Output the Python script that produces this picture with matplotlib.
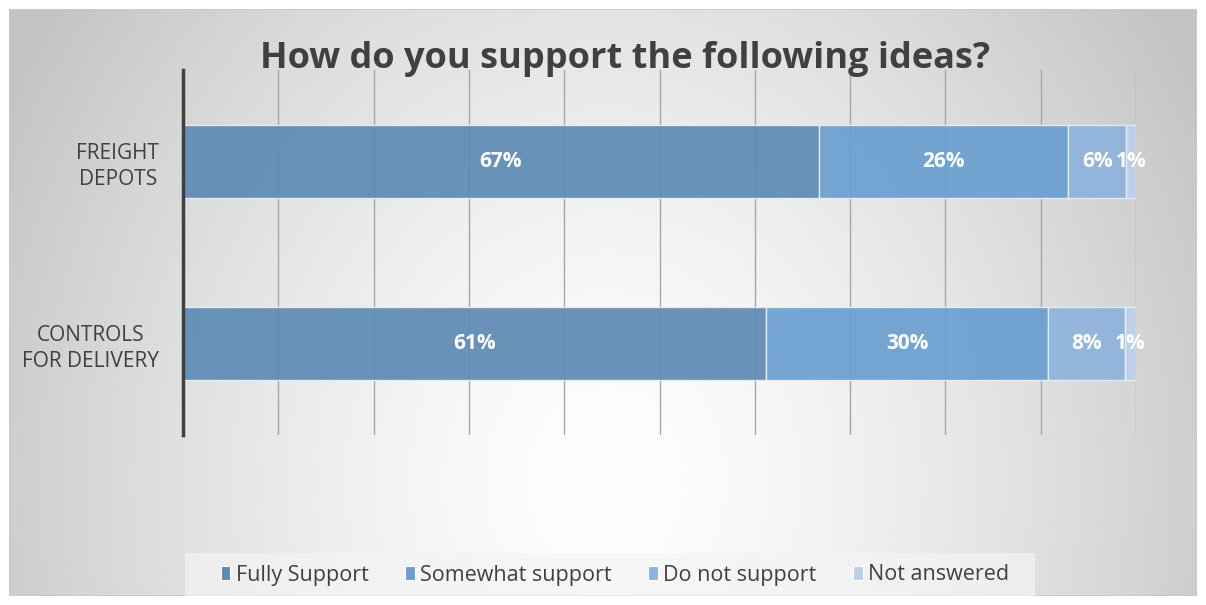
import numpy as np
import matplotlib
matplotlib.use("Agg")
import matplotlib.pyplot as plt
from matplotlib.patches import Rectangle, Patch

categories = ["FREIGHT\nDEPOTS", "CONTROLS\nFOR DELIVERY"]
series = ["Fully Support", "Somewhat support", "Do not support", "Not answered"]
fully = [66.7, 61.2]
somewhat = [26.2, 29.6]
donot = [6.1, 8.0]
notans = [1.0, 1.2]
colors = ["#5E8AB4", "#6A9FD0", "#8FB3DC", "#BCD0EA"]
title = "How do you support the following ideas?"

W, H = 1206, 605
fig = plt.figure(figsize=(W / 100, H / 100), dpi=100)
fig.patch.set_facecolor("white")
plt.rcParams['font.family'] = ['Open Sans', 'DejaVu Sans']

# background radial gradient frame
bg = fig.add_axes([9 / W, 9 / H, (1197 - 9) / W, (596 - 9) / H])
yy, xx = np.mgrid[9:596, 9:1197]
cx, cy = 605, 480
r = np.sqrt(((xx - cx) / 680) ** 2 + ((yy - cy) / 800) ** 2)
r = np.clip(r, 0, 1)
v = 1.0 - 0.23 * r ** 1.4
img = np.dstack([v, v, v])
bg.imshow(img, aspect="auto", extent=[0, 1, 0, 1], origin="upper")
bg.set_xlim(0, 1); bg.set_ylim(0, 1)
bg.axis("off")
bg.add_patch(Rectangle((0, 0), 1, 1, transform=bg.transAxes, fill=False,
                       edgecolor="#C8C8C8", linewidth=1.2))
# legend box
bg.add_patch(Rectangle(((185 - 9) / 1188, (596 - 597) / 587), (1035 - 185) / 1188, (597 - 553) / 587,
                       transform=bg.transAxes, facecolor="#F4F4F4", edgecolor="none", alpha=0.7))

ax = fig.add_axes([183 / W, 1 - 435 / H, (1136 - 183) / W, (435 - 70) / H])
ax.patch.set_alpha(0)
y = np.arange(len(categories))
data = [fully, somewhat, donot, notans]
left = np.zeros(len(categories))
for vals, c, name in zip(data, colors, series):
    vals = np.array(vals)
    ax.barh(y, vals, left=left, height=0.4, color=c, alpha=0.92,
            edgecolor="#E8EEF6", linewidth=1.0, label=name, zorder=3)
    for yi, (l, w) in enumerate(zip(left, vals)):
        ax.text(l + w / 2, yi, f"{round(w)}%", ha="center", va="center",
                color="white", fontsize=15, fontweight="bold", zorder=5)
    left = left + vals

ax.set_xlim(0, 100)
ax.set_ylim(1.5, -0.5)
ax.set_xticks(np.arange(0, 101, 10))
ax.xaxis.grid(True, color="#A6A6A6", linewidth=1.0, zorder=1)
ax.set_axisbelow(True)
ax.tick_params(axis="x", length=0, labelbottom=False)
ax.tick_params(axis="y", length=0, pad=17)
ax.set_yticks(y)
ax.set_yticklabels(categories, fontsize=15, color="#404040", ha="right",
                   multialignment="center", linespacing=1.3)
for s in ["top", "right", "bottom"]:
    ax.spines[s].set_visible(False)
ax.spines["left"].set_color("#404040")
ax.spines["left"].set_linewidth(2.5)
ax.spines["left"].set_zorder(6)

fig.text(625 / W, 1 - 59 / H, title, ha="center", va="center", fontsize=26,
         fontweight="bold", color="#404040")

handles = [Patch(facecolor=c, edgecolor="white", linewidth=0.8) for c in colors]
fig.legend(handles, series, loc="center", bbox_to_anchor=(615 / W, 1 - 575 / H), ncol=4,
           frameon=False, fontsize=15.5, labelcolor="#404040", handlelength=0.45,
           handleheight=0.6, handletextpad=0.25, columnspacing=1.7)

fig.savefig("out.png", dpi=100)
